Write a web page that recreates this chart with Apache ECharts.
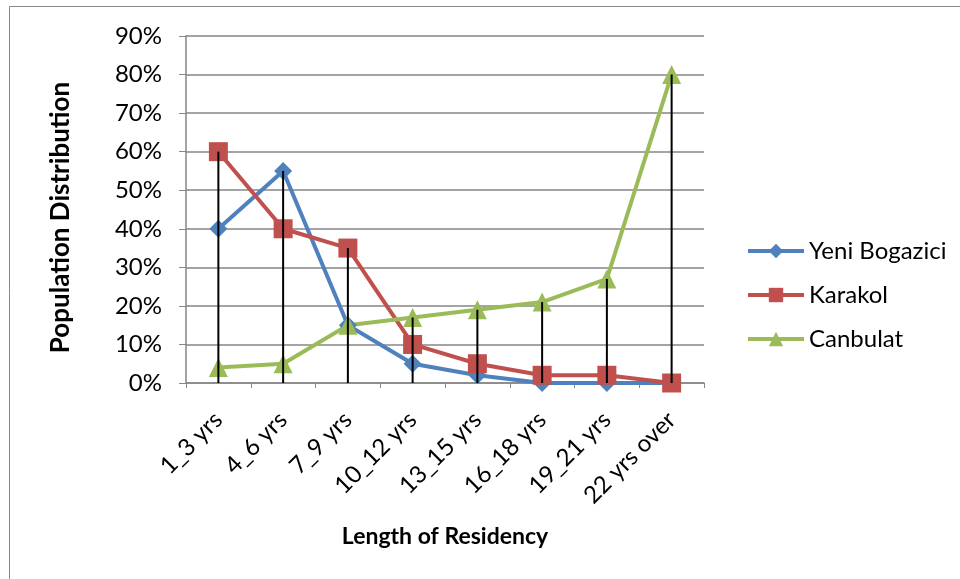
<!DOCTYPE html>
<html><head><meta charset="utf-8">
<script src="https://cdn.jsdelivr.net/npm/echarts@6/dist/echarts.min.js"></script>
<style>html,body{margin:0;padding:0;background:#fff}#c{width:960px;height:579px}</style>
</head><body><div id="c"></div>
<script>
var categories = ['1_3 yrs','4_6 yrs','7_9 yrs','10_12 yrs','13_15 yrs','16_18 yrs','19_21 yrs','22 yrs over'];
var yeniBogazici = [40, 55, 15, 5, 2, 0, 0, 0];
var karakol = [60, 40, 35, 10, 5, 2, 2, 0];
var canbulat = [4, 5, 15, 17, 19, 21, 27, 80];
var yTicks = [0,10,20,30,40,50,60,70,80,90];

var dropLines = categories.map(function(c,i){return Math.max(yeniBogazici[i],karakol[i],canbulat[i]);});
var FONT = 'Lato';
var chart = echarts.init(document.getElementById('c'), null, {renderer:'canvas'});
function mk(name, data, color, symbol, size){
  return {name:name,type:'line',data:data,symbol:symbol,symbolSize:size,
    lineStyle:{color:color,width:4},itemStyle:{color:color},z:2,silent:true,animation:false};
}
chart.setOption({
  animation:false,
  graphic:[{type:'rect',shape:{x:9.5,y:6.5,width:1000,height:1000},style:{fill:'none',stroke:'#888',lineWidth:1},z:-1}],
  grid:{left:186,right:256,top:36,bottom:196},
  legend:{orient:'vertical',left:741,top:234,itemGap:20,itemWidth:56,itemHeight:18,
    lineStyle:{width:4},
    textStyle:{fontFamily:FONT,fontSize:24,color:'#000'},
    data:['Yeni Bogazici','Karakol','Canbulat']},
  xAxis:{type:'category',data:categories,boundaryGap:true,
    name:'Length of Residency',nameLocation:'middle',nameGap:142,
    nameTextStyle:{fontFamily:FONT,fontSize:23,fontWeight:'bold',color:'#000'},
    axisLine:{lineStyle:{color:'#868686',width:1.5}},
    axisTick:{show:true,length:5,lineStyle:{color:'#868686'}},
    axisLabel:{rotate:45,fontFamily:FONT,fontSize:24,color:'#000',margin:33}},
  yAxis:{type:'value',min:yTicks[0],max:yTicks[yTicks.length-1],interval:10,
    name:'Population Distribution',nameLocation:'middle',nameGap:112,
    nameTextStyle:{fontFamily:FONT,fontSize:26,fontWeight:'bold',color:'#000',padding:[0,16,0,0]},
    axisLine:{show:true,lineStyle:{color:'#868686',width:1.5}},
    axisTick:{show:true,length:7,lineStyle:{color:'#868686'}},
    splitLine:{lineStyle:{color:'#868686',width:1.5}},
    axisLabel:{formatter:'{value}%',fontFamily:FONT,fontSize:24,color:'#000',margin:24}},
  series:[
    mk('Yeni Bogazici',yeniBogazici,'#4F81BD','diamond',18),
    mk('Karakol',karakol,'#C0504D','rect',19),
    mk('Canbulat',canbulat,'#9BBB59','triangle',19),
    {type:'bar',data:dropLines,barWidth:2,itemStyle:{color:'#000'},z:5,silent:true,legendHoverLink:false}
  ]
});
</script></body></html>
